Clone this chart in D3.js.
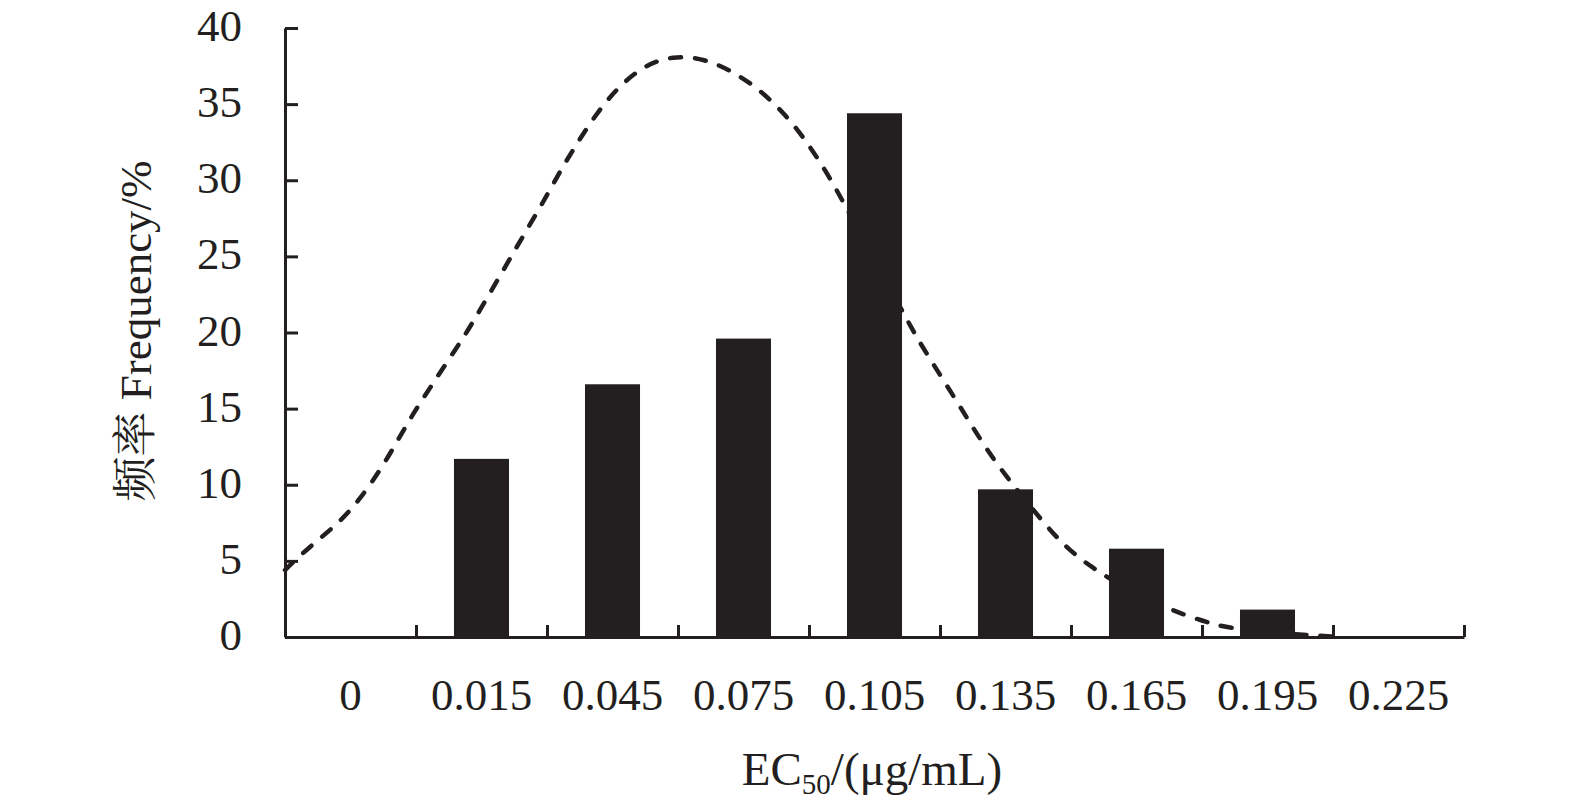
<!DOCTYPE html>
<html>
<head>
<meta charset="utf-8">
<script src="https://cdn.jsdelivr.net/npm/d3@7"></script>
<style>
  body { margin: 0; background: #fff; }
  svg text { font-family: "Liberation Serif", "Times New Roman", "Noto Serif CJK SC", "Noto Sans CJK SC", serif; fill: #231f20; }
</style>
</head>
<body>
<div id="chart"></div>
<script>
// bins and frequencies (%)
const categories = ["0", "0.015", "0.045", "0.075", "0.105", "0.135", "0.165", "0.195", "0.225"];
const frequency = [0, 11.7, 16.6, 19.6, 34.4, 9.7, 5.8, 1.8, 0];

// fitted curve, x in bin units from the y axis
const curveX = [0, 0.17, 0.40, 0.56, 0.73, 0.86, 0.98, 1.11, 1.24, 1.38, 1.49, 1.62, 1.74, 1.87, 2.0,
    2.12, 2.25, 2.38, 2.53, 2.73, 2.96, 3.20, 3.43, 3.63, 3.81, 3.96, 4.10, 4.23, 4.47, 4.72, 4.82,
    4.95, 5.09, 5.22, 5.35, 5.50, 5.79, 5.96, 6.15, 6.45, 6.81, 7.06, 7.25, 7.79, 8.05];
const curveY = [4.4, 5.8, 7.4, 8.9, 11.0, 12.9, 14.7, 16.4, 18.1, 19.9, 21.5, 23.4, 25.2, 27.1, 29.0,
    30.9, 32.7, 34.4, 36.0, 37.5, 38.2, 38.0, 37.1, 35.9, 34.4, 32.8, 31.0, 29.1, 25.2, 21.3, 19.7,
    17.9, 16.0, 14.2, 12.4, 10.6, 7.5, 5.9, 4.6, 3.0, 1.6, 0.9, 0.5, 0.13, 0.0];

const yTicks = [0, 5, 10, 15, 20, 25, 30, 35, 40];

const width = 1575, height = 809;
const plotLeft = 285, plotRight = 1464, plotTop = 28, plotBottom = 637;
const ink = "#231f20";

const svg = d3.select("#chart").append("svg")
    .attr("width", width)
    .attr("height", height);

const x = d3.scaleBand()
    .domain(categories)
    .range([plotLeft, plotRight])
    .paddingInner(0.58)
    .paddingOuter(0.29);

const xPos = d3.scaleLinear()
    .domain([0, categories.length])
    .range([plotLeft, plotRight]);

const y = d3.scaleLinear()
    .domain([0, 40])
    .range([plotBottom, plotTop]);

// curve sits behind the bars
const line = d3.line()
    .x(d => xPos(d[0]))
    .y(d => y(d[1]))
    .curve(d3.curveBasis);

svg.append("path")
    .datum(d3.zip(curveX, curveY))
    .attr("d", line)
    .attr("fill", "none")
    .attr("stroke", ink)
    .attr("stroke-width", 4.5)
    .attr("stroke-linecap", "round")
    .attr("stroke-dasharray", "11,14");

svg.append("g")
    .selectAll("rect")
    .data(categories.map((c, i) => ({ c: c, v: frequency[i] })))
    .enter().append("rect")
    .attr("x", d => x(d.c))
    .attr("y", d => y(d.v))
    .attr("width", x.bandwidth())
    .attr("height", d => y(0) - y(d.v))
    .attr("fill", ink);

// y axis
const yAxis = svg.append("g")
    .attr("transform", `translate(${plotLeft},0)`)
    .call(d3.axisLeft(y).tickValues(yTicks).tickSizeInner(-13).tickSizeOuter(0).tickPadding(43));
yAxis.selectAll("text").attr("dy", "0.28em").style("font-size", "45px");

// x axis tick marks on bin edges
svg.append("g")
    .attr("transform", `translate(0,${plotBottom})`)
    .call(d3.axisBottom(xPos).tickValues(d3.range(1, categories.length + 1)).tickSizeInner(-12).tickSizeOuter(0).tickFormat(""));

// x labels at bin centres
const xAxis = svg.append("g")
    .attr("transform", `translate(0,${plotBottom})`)
    .call(d3.axisBottom(x).tickSize(0).tickPadding(41));
xAxis.select(".domain").remove();
xAxis.selectAll("text").style("font-size", "45px");

svg.selectAll(".domain, .tick line")
    .attr("stroke", ink)
    .attr("stroke-width", 3);

// titles
const xTitle = svg.append("text")
    .attr("x", 872)
    .attr("y", 785)
    .attr("text-anchor", "middle")
    .style("font-size", "47px");
xTitle.append("tspan").text("EC");
xTitle.append("tspan").attr("dy", 9).style("font-size", "29px").text("50");
xTitle.append("tspan").attr("dy", -9).text("/(μg/mL)");

svg.append("text")
    .attr("transform", "translate(151,331) rotate(-90)")
    .attr("text-anchor", "middle")
    .style("font-size", "45px")
    .text("频率 Frequency/%");
</script>
</body>
</html>
